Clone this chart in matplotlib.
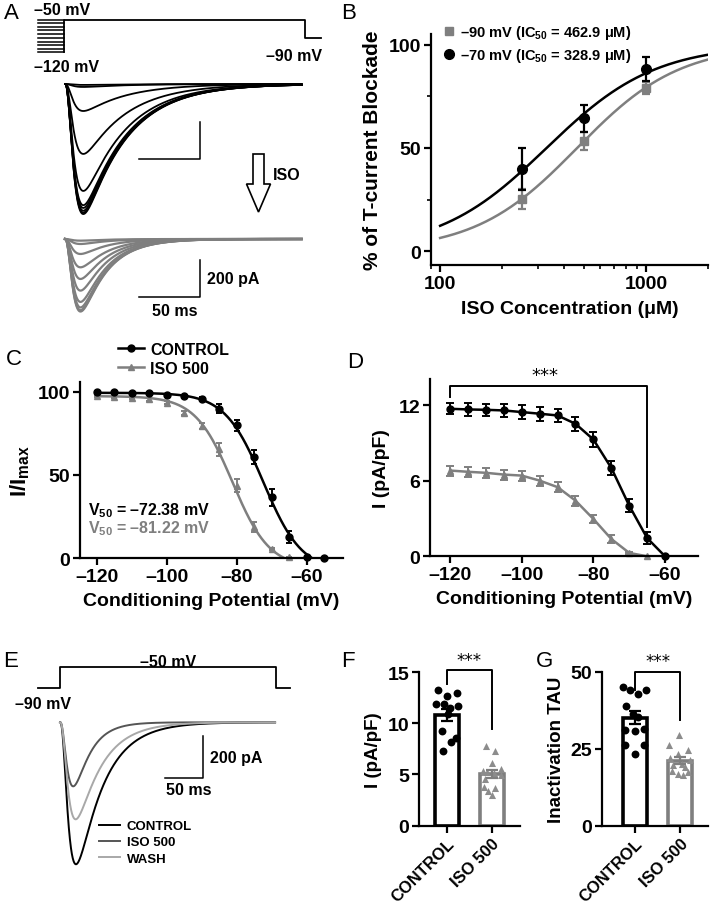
import numpy as np
import matplotlib
matplotlib.use("Agg")
import matplotlib.pyplot as plt
from matplotlib.lines import Line2D
from matplotlib.patches import FancyArrow
from matplotlib.ticker import FixedLocator, NullFormatter, LogLocator

plt.rcParams.update({
    "font.family": ["Liberation Sans", "DejaVu Sans"],
    "font.weight": "bold",
    "axes.labelweight": "bold",
    "axes.labelsize": 14,
    "axes.linewidth": 1.6,
    "xtick.labelsize": 14,
    "ytick.labelsize": 14,
    "xtick.major.width": 1.6,
    "ytick.major.width": 1.6,
    "xtick.minor.width": 1.2,
    "ytick.minor.width": 1.2,
    "xtick.major.size": 5,
    "ytick.major.size": 5,
    "xtick.minor.size": 3,
    "ytick.minor.size": 3,
    "xtick.major.pad": 2,
    "ytick.major.pad": 2,
    "mathtext.fontset": "custom",
    "mathtext.rm": "Liberation Sans:bold",
    "mathtext.bf": "Liberation Sans:bold",
    "mathtext.it": "Liberation Sans:bold:italic",
    "mathtext.default": "rm",
})

GRAY = "#7f7f7f"

# ---------------------------------------------------------------------------
# Data
# ---------------------------------------------------------------------------
# A: voltage protocol (mV) and peak current of each sweep (pA)
a_cond_mv = [-120, -112, -104, -97, -89, -81, -73, -66, -58, -50]
a_test_mv, a_hold_mv = -50, -90
a_ctrl_peaks = [703, 695, 685, 670, 655, 578, 378, 146, 16, 5]
a_iso_peaks = [392, 385, 370, 340, 279, 216, 153, 81, 27, 9]
a_tau_act = 4.8          # ms
a_tau_inact = [35, 21]   # ms, control / ISO

# B: concentration-response
b_conc = [250, 500, 1000]
b_m90 = [25.2, 53.5, 78.9]
b_m90_err = [5.0, 4.3, 3.0]
b_m70 = [39.7, 64.3, 88.2]
b_m70_err = [10.2, 6.6, 6.0]
b_ic50 = [462.9, 328.9]
b_hill = [1.75, 1.65]

# C: steady-state inactivation, I/Imax (%)
c_v_ctrl = [-120, -115, -110, -105, -100, -95, -90, -85, -80, -75, -70, -65, -60, -55]
c_ctrl = [100, 99.8, 99.6, 99.2, 98.4, 97.3, 96.0, 90.0, 79.9, 60.8, 36.5, 12.6, 0.5, 0.0]
c_ctrl_err = [0.3, 0.3, 0.4, 0.5, 0.6, 0.8, 1.0, 2.5, 3.5, 4.0, 5.0, 3.5, 0.5, 0.0]
c_v_iso = [-120, -115, -110, -105, -100, -95, -90, -85, -80, -75, -70, -65]
c_iso = [97.5, 97.0, 96.5, 95.5, 93.5, 87.6, 79.6, 65.5, 43.5, 18.8, 5.4, 0.5]
c_iso_err = [0.5, 0.5, 0.6, 0.8, 1.0, 1.2, 2.0, 4.0, 4.0, 3.0, 0.8, 0.3]
c_v50 = [-72.38, -81.22]
c_slope = [5.5, 5.3]
c_top = [99.5, 97.5]
c_bottom = [-8.0, -6.0]

# D: current density (pA/pF)
d_v_ctrl = [-120, -115, -110, -105, -100, -95, -90, -85, -80, -75, -70, -65, -60]
d_ctrl = [11.73, 11.68, 11.65, 11.6, 11.47, 11.34, 11.2, 10.54, 9.29, 7.03, 4.03, 1.45, 0.0]
d_ctrl_err = [0.45, 0.5, 0.5, 0.5, 0.55, 0.55, 0.55, 0.55, 0.6, 0.55, 0.5, 0.45, 0.0]
d_v_iso = [-120, -115, -110, -105, -100, -95, -90, -85, -80, -75, -70, -65]
d_iso = [6.82, 6.72, 6.64, 6.5, 6.42, 6.02, 5.5, 4.43, 2.97, 1.38, 0.27, 0.0]
d_iso_err = [0.4, 0.4, 0.4, 0.4, 0.4, 0.4, 0.4, 0.4, 0.35, 0.3, 0.1, 0.0]

# E: representative traces
e_labels = ["CONTROL", "ISO 500", "WASH"]
e_peaks = [676, 305, 462]
e_tau_inact = [35, 21, 33]
e_tau_act = 7.9
e_colors = ["black", "#555555", "#a8a8a8"]

# F / G: individual cells
groups = ["CONTROL", "ISO 500"]
f_ctrl = [13.28, 12.95, 12.63, 11.84, 11.84, 11.65, 11.49, 10.9, 9.20, 8.55, 8.16, 7.31]
f_iso = [7.73, 7.27, 6.1, 5.55, 5.3, 5.2, 5.15, 4.9, 4.6, 3.82, 3.69, 3.4, 3.0]
g_ctrl = [45.1, 44.0, 42.9, 44.2, 38.8, 36.2, 35.3, 31.2, 30.8, 31.5, 26.1, 26.1, 23.4]
g_iso = [29.3, 26.1, 24.7, 23.4, 22.1, 21.2, 20.1, 19.6, 19.0, 17.9, 17.4, 16.9, 16.3]
# horizontal scatter of the dots (fraction of bar spacing)
f_ctrl_jit = [-0.2, 0.22, 0.0, -0.24, -0.05, 0.26, 0.07, 0.04, -0.11, 0.2, 0.1, -0.09]
f_iso_jit = [-0.12, 0.08, 0.0, 0.2, -0.2, -0.1, 0.05, 0.2, -0.15, -0.18, 0.08, -0.08, 0.0]
g_ctrl_jit = [-0.26, -0.11, 0.07, 0.24, -0.21, -0.04, 0.07, -0.22, -0.01, 0.2, -0.22, 0.19, -0.01]
g_iso_jit = [-0.02, -0.24, 0.17, -0.04, -0.22, 0.22, 0.04, -0.15, 0.11, -0.19, 0.17, -0.04, 0.07]


# ---------------------------------------------------------------------------
# Helpers
# ---------------------------------------------------------------------------
W, H = 710, 904
fig = plt.figure(figsize=(W / 100, H / 100), dpi=100)


def box(x0, y0, x1, y1):
    """Axes placed by pixel box (left, top, right, bottom)."""
    ax = fig.add_axes([x0 / W, 1 - y1 / H, (x1 - x0) / W, (y1 - y0) / H])
    ax.patch.set_alpha(0)
    return ax


def ftext(px, py, s, **kw):
    return fig.text(px / W, 1 - py / H, s, **kw)


def trace(t, peak, tau_act, tau_inact):
    w = (1 - np.exp(-t / tau_act)) ** 3 * np.exp(-t / tau_inact)
    return -peak * w / w.max()


def hill(x, ic50, n):
    return 100 / (1 + (ic50 / x) ** n)


def boltz(v, v50, k, top, bottom):
    return bottom + (top - bottom) / (1 + np.exp((v - v50) / k))


def style(ax):
    for s in ("top", "right"):
        ax.spines[s].set_visible(False)


def letter(px, py, s):
    ftext(px, py, s, fontsize=16, fontweight="normal", va="top", ha="left")


# ---------------------------------------------------------------------------
# A: protocol and current traces
# ---------------------------------------------------------------------------
A_BOX = (30, 0, 332, 330)
a_t0, a_pxms = 65, 1.22
a_xl = ((A_BOX[0] - a_t0) / a_pxms, (A_BOX[2] - a_t0) / a_pxms)

ax_ap = box(*A_BOX)
ax_ap.axis("off")
ax_ap.set_xlim(a_xl)
ax_ap.set_ylim(-50 - (A_BOX[3] - 20.7) / 0.466, -50 + (20.7 - A_BOX[1]) / 0.466)
for v in a_cond_mv:
    ax_ap.plot([-22, -0.8], [v, v], color="k", lw=1.1)
ax_ap.plot([-0.8, -0.8, 196.7, 196.7, 210], [min(a_cond_mv), a_test_mv, a_test_mv,
                                             a_hold_mv, a_hold_mv], color="k", lw=1.3)

t_a = np.linspace(0, 194, 800)
ax_ac = box(*A_BOX)
ax_ac.axis("off")
ax_ac.set_xlim(a_xl)
ax_ac.set_ylim(-(A_BOX[3] - 85) / 0.185, (85 - A_BOX[1]) / 0.185)
for p in a_ctrl_peaks:
    ax_ac.plot(t_a, trace(t_a, p, a_tau_act, a_tau_inact[0]), color="k", lw=1.3)
ax_ac.plot([60.7, 110.7, 110.7], [-405, -405, -205], color="k", lw=1.1)

ax_ai = box(*A_BOX)
ax_ai.axis("off")
ax_ai.set_xlim(a_xl)
ax_ai.set_ylim(-(A_BOX[3] - 240) / 0.185, (240 - A_BOX[1]) / 0.185)
for p in a_iso_peaks:
    ax_ai.plot(t_a, trace(t_a, p, a_tau_act, a_tau_inact[1]), color=GRAY, lw=1.6)
ax_ai.plot([60.7, 110.7, 110.7], [-313, -313, -113], color="k", lw=1.1)
ax_ai.text(116, -213, "200 pA", fontsize=11.5, va="center", ha="left")
ax_ai.text(90, -345, "50 ms", fontsize=11.5, va="top", ha="center")

ftext(34, 3, "\u201350 mV", fontsize=11.5, va="top")
ftext(34, 60, "\u2013120 mV", fontsize=11.5, va="top")
ftext(266, 49, "\u201390 mV", fontsize=11.5, va="top")
fig.patches.append(FancyArrow(2.585, (H - 155) / 100, 0, -0.58, width=0.11,
                              head_width=0.24, head_length=0.28,
                              length_includes_head=True, fc="white", ec="black",
                              lw=1.2, transform=fig.dpi_scale_trans))
ftext(273, 175, "ISO", fontsize=11.5, va="center")
letter(4, 3, "A")

# ---------------------------------------------------------------------------
# B: concentration-response
# ---------------------------------------------------------------------------
ax_b = box(430.7, 35, 708, 266)
style(ax_b)
xs = np.logspace(2, np.log10(2000), 300)
ax_b.plot(xs, hill(xs, b_ic50[0], b_hill[0]), color=GRAY, lw=1.8)
ax_b.plot(xs, hill(xs, b_ic50[1], b_hill[1]), color="k", lw=1.8)
ax_b.errorbar(b_conc, b_m90, yerr=b_m90_err, fmt="s", color=GRAY, ms=6,
              capsize=3, elinewidth=1.6, capthick=1.6)
ax_b.errorbar(b_conc, b_m70, yerr=b_m70_err, fmt="o", color="k", ms=7,
              capsize=3, elinewidth=1.6, capthick=1.6)
ax_b.set_xscale("log")
ax_b.set_xlim(90, 2000)
ax_b.set_ylim(-6.7, 105.2)
ax_b.set_xticks([100, 1000])
ax_b.set_xticklabels(["100", "1000"])
ax_b.xaxis.set_minor_locator(LogLocator(base=10, subs=np.arange(2, 10)))
ax_b.xaxis.set_minor_formatter(NullFormatter())
ax_b.set_yticks([0, 50, 100])
ax_b.yaxis.set_minor_locator(FixedLocator([25, 75]))
ax_b.set_xlabel("ISO Concentration (\u03bcM)", labelpad=6)
ax_b.set_ylabel("% of T-current Blockade", fontsize=15, labelpad=5)
hb = [Line2D([], [], ls="none", marker="s", color=GRAY, ms=6),
      Line2D([], [], ls="none", marker="o", color="k", ms=7)]
ax_b.legend(hb, ["\u201390 mV (IC$_{50}$ = 462.9 \u03bcM)",
                 "\u201370 mV (IC$_{50}$ = 328.9 \u03bcM)"],
            loc="upper left", bbox_to_anchor=(443 / W, 1 - 24 / H),
            bbox_transform=fig.transFigure, frameon=False, fontsize=10.5,
            handlelength=0.8, handletextpad=0.4, labelspacing=0.35,
            borderpad=0, borderaxespad=0)
letter(341, 3, "B")

# ---------------------------------------------------------------------------
# C: steady-state inactivation
# ---------------------------------------------------------------------------
ax_c = box(80, 383, 343, 559)
style(ax_c)
vv = np.linspace(-120, -56, 300)
ax_c.plot(vv, boltz(vv, c_v50[0], c_slope[0], c_top[0], c_bottom[0]), color="k", lw=1.8)
vv = np.linspace(-120, -62, 300)
ax_c.plot(vv, boltz(vv, c_v50[1], c_slope[1], c_top[1], c_bottom[1]), color=GRAY, lw=1.8)
ax_c.errorbar(c_v_iso, c_iso, yerr=c_iso_err, fmt="^", color=GRAY, ms=5,
              capsize=2.5, elinewidth=1.4, capthick=1.4, clip_on=False)
ax_c.errorbar(c_v_ctrl, c_ctrl, yerr=c_ctrl_err, fmt="o", color="k", ms=5,
              capsize=2.5, elinewidth=1.4, capthick=1.4, clip_on=False)
ax_c.set_xlim(-124.8, -49.6)
ax_c.set_ylim(0, 106)
ax_c.set_xticks([-120, -100, -80, -60])
ax_c.set_xticklabels(["\u2013120", "\u2013100", "\u201380", "\u201360"])
ax_c.set_yticks([0, 50, 100])
ax_c.set_xlabel("Conditioning Potential (mV)", labelpad=5)
ax_c.set_ylabel("I/I$_{max}$", fontsize=16, labelpad=4)
ftext(88, 511, "V$_{50}$ = \u201372.38 mV", fontsize=11.5, va="center", color="k")
ftext(88, 529, "V$_{50}$ = \u201381.22 mV", fontsize=11.5, va="center", color=GRAY)
hc = [Line2D([], [], color="k", marker="o", ms=5, lw=1.8),
      Line2D([], [], color=GRAY, marker="^", ms=5, lw=1.8)]
ax_c.legend(hc, ["CONTROL", "ISO 500"], loc="upper left",
            bbox_to_anchor=(118 / W, 1 - 343 / H), bbox_transform=fig.transFigure,
            frameon=False, fontsize=11.5, handlelength=1.6, handletextpad=0.4,
            labelspacing=0.25, borderpad=0, borderaxespad=0)
letter(6, 349, "C")

# ---------------------------------------------------------------------------
# D: current density vs conditioning potential
# ---------------------------------------------------------------------------
ax_d = box(430, 380, 698, 557.3)
style(ax_d)
ax_d.errorbar(d_v_iso, d_iso, yerr=d_iso_err, fmt="-^", color=GRAY, ms=5, lw=1.8,
              capsize=3, elinewidth=1.4, capthick=1.4, clip_on=False)
ax_d.errorbar(d_v_ctrl, d_ctrl, yerr=d_ctrl_err, fmt="-o", color="k", ms=5, lw=1.8,
              capsize=3, elinewidth=1.4, capthick=1.4, clip_on=False)
ax_d.plot([-120, -120, -65, -65], [12.7, 13.55, 13.55, 2.3], color="k", lw=1.4,
          clip_on=False)
ax_d.text(-93.4, 13.7, "***", fontsize=13, fontweight="normal", ha="center",
          va="bottom", family="DejaVu Sans")
ax_d.set_xlim(-125.6, -50.8)
ax_d.set_ylim(0, 14.1)
ax_d.set_xticks([-120, -100, -80, -60])
ax_d.set_xticklabels(["\u2013120", "\u2013100", "\u201380", "\u201360"])
ax_d.set_yticks([0, 6, 12])
ax_d.set_xlabel("Conditioning Potential (mV)", labelpad=5)
ax_d.set_ylabel("I (pA/pF)", labelpad=6)
letter(347, 352, "D")

# ---------------------------------------------------------------------------
# E: representative traces
# ---------------------------------------------------------------------------
E_BOX = (30, 640, 340, 890)
e_t0, e_pxms = 60, 0.76
e_xl = ((E_BOX[0] - e_t0) / e_pxms, (E_BOX[2] - e_t0) / e_pxms)

ax_ep = box(*E_BOX)
ax_ep.axis("off")
ax_ep.set_xlim(e_xl)
ax_ep.set_ylim(-50 - (E_BOX[3] - 668) / 0.525, -50 + (668 - E_BOX[1]) / 0.525)
ax_ep.plot([-29, 0, 0, 284, 284, 303], [a_hold_mv, a_hold_mv, a_test_mv, a_test_mv,
                                       a_hold_mv, a_hold_mv], color="k", lw=1.3)

t_e = np.linspace(0, 283, 1000)
ax_et = box(*E_BOX)
ax_et.axis("off")
ax_et.set_xlim(e_xl)
ax_et.set_ylim(-(E_BOX[3] - 723.3) / 0.21, (723.3 - E_BOX[1]) / 0.21)
for p, tau, c in zip(e_peaks, e_tau_inact, e_colors):
    ax_et.plot(t_e, trace(t_e, p, e_tau_act, tau), color=c, lw=1.4)
ax_et.plot([138, 188, 188], [-267, -267, -67], color="k", lw=1.1)
ax_et.text(198, -167, "200 pA", fontsize=11.5, va="center", ha="left")
ax_et.text(170, -285, "50 ms", fontsize=11.5, va="top", ha="center")
he = [Line2D([], [], color=c, lw=1.4) for c in e_colors]
ax_et.legend(he, e_labels, loc="upper left", bbox_to_anchor=(99 / W, 1 - 821 / H),
             bbox_transform=fig.transFigure, frameon=False, fontsize=9.5,
             handlelength=1.6, handletextpad=0.5, labelspacing=0.3,
             borderpad=0, borderaxespad=0)
ftext(140, 655, "\u201350 mV", fontsize=11.5, va="top")
ftext(15, 697, "\u201390 mV", fontsize=11.5, va="top")
letter(3, 651, "E")


# ---------------------------------------------------------------------------
# F / G: bar + dot plots
# ---------------------------------------------------------------------------
def bar_dots(ax, ctrl, iso, jit_c, jit_i):
    for i, (vals, jit, col, mk) in enumerate([(ctrl, jit_c, "k", "o"),
                                               (iso, jit_i, GRAY, "^")]):
        vals = np.asarray(vals)
        mean = vals.mean()
        sem = vals.std(ddof=1) / np.sqrt(len(vals))
        ax.bar(i, mean, width=0.53, fill=False, edgecolor=col, linewidth=2.6, zorder=2)
        ax.scatter(i + np.asarray(jit), vals, marker=mk, s=32 if mk == "o" else 26,
                   color=col if mk == "o" else "#8c8c8c", zorder=3, linewidths=0)
        ax.errorbar(i, mean, yerr=sem, color=col, capsize=4, elinewidth=1.6,
                    capthick=1.6, zorder=4)
    ax.set_xticks([0, 1])
    ax.set_xticklabels(groups, rotation=45, ha="right", va="top",
                       rotation_mode="anchor", fontsize=12)
    style(ax)


ax_f = box(419, 673, 520, 826.7)
bar_dots(ax_f, f_ctrl, f_iso, f_ctrl_jit, f_iso_jit)
ax_f.set_xlim(-0.615, 1.63)
ax_f.set_ylim(0, 15)
ax_f.set_yticks([0, 5, 10, 15])
ax_f.set_ylabel("I (pA/pF)", fontsize=13.5, labelpad=4)
ax_f.plot([0, 0, 1, 1], [13.8, 15.2, 15.2, 9.4], color="k", lw=1.4, clip_on=False)
ax_f.text(0.5, 15.3, "***", fontsize=12, fontweight="normal", ha="center",
          va="bottom", family="DejaVu Sans")
letter(341, 651, "F")

ax_g = box(601.7, 672.7, 708, 826.7)
bar_dots(ax_g, g_ctrl, g_iso, g_ctrl_jit, g_iso_jit)
ax_g.set_xlim(-0.74, 1.62)
ax_g.set_ylim(0, 50)
ax_g.set_yticks([0, 25, 50])
ax_g.set_ylabel("Inactivation TAU", fontsize=13.5, labelpad=4)
ax_g.plot([0, 0, 1, 1], [44.0, 50.0, 50.0, 34.2], color="k", lw=1.4, clip_on=False)
ax_g.text(0.5, 50.4, "***", fontsize=12, fontweight="normal", ha="center",
          va="bottom", family="DejaVu Sans")
letter(536, 651, "G")

fig.savefig("out.png", dpi=100)
